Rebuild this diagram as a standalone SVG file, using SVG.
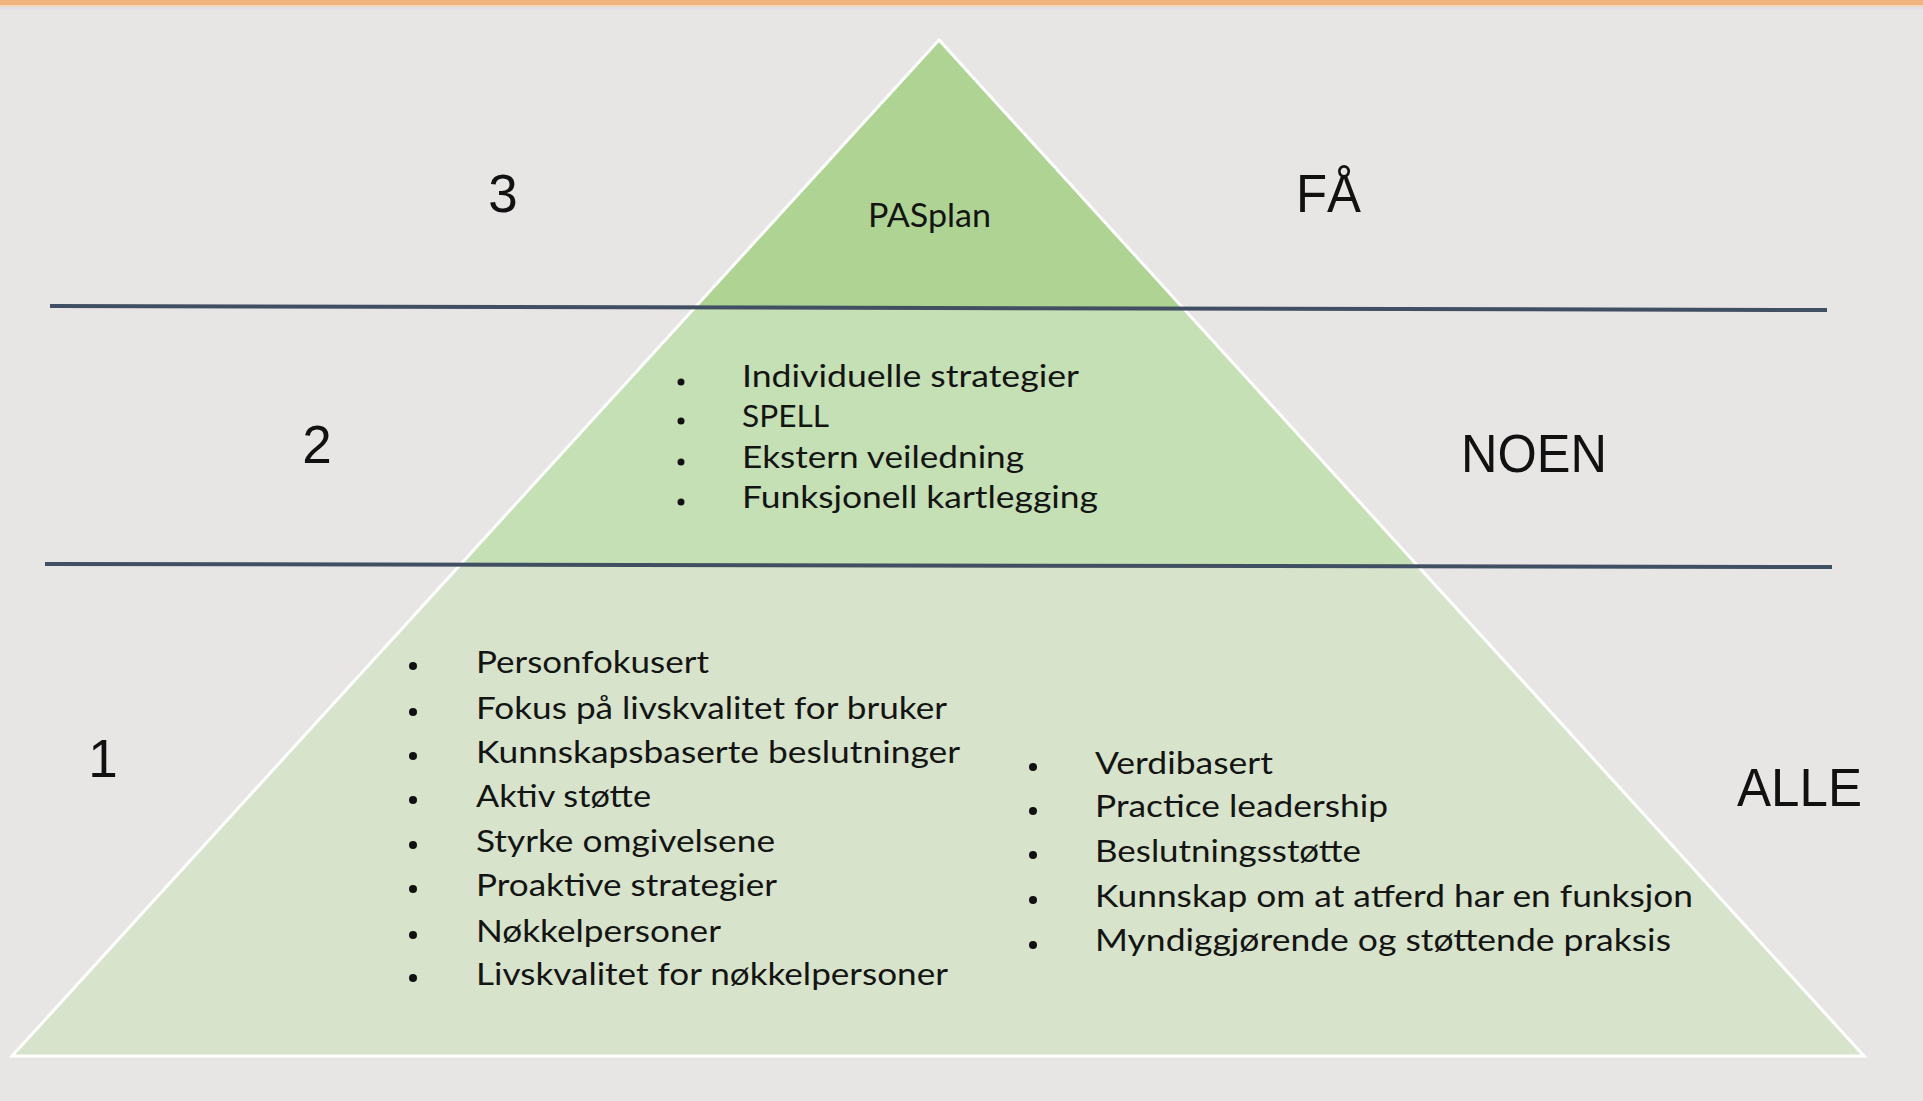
<svg xmlns="http://www.w3.org/2000/svg" width="1923" height="1101" viewBox="0 0 1923 1101">
  <style>
    .lvl { font-family: "Liberation Sans", Arial, sans-serif; font-size: 53px; fill: #111; }
    .item { font-family: Lato, "Open Sans", "Liberation Sans", sans-serif; font-size: 30px; fill: #141414; }
    .title { font-family: Lato, "Open Sans", "Liberation Sans", sans-serif; font-size: 32px; fill: #141414; }
    .divider { stroke: #414f62; stroke-width: 4; stroke-linecap: butt; fill: none; }
    .bullet { fill: #111; }
  </style>
  <defs>
    <clipPath id="triClip">
      <polygon points="939,40 12,1056 1864,1056"/>
    </clipPath>
  </defs>

  <!-- background -->
  <rect x="0" y="0" width="1923" height="1101" fill="#e8e5e5"/>
  <rect x="0" y="0" width="1923" height="5" fill="#eeb47c"/>
  <rect x="0" y="5" width="1923" height="2" fill="#f6d5b8"/>
  <rect x="0" y="7" width="1923" height="3" fill="#e1e0e7"/>

  <!-- pyramid -->
  <g id="pyramid">
    <g clip-path="url(#triClip)">
      <rect id="band-3" x="0" y="0" width="1923" height="309" fill="#aed393"/>
      <rect id="band-2" x="0" y="309" width="1923" height="257" fill="#c5e0b4"/>
      <rect id="band-1" x="0" y="566" width="1923" height="500" fill="#d7e4cb"/>
    </g>
    <polygon points="939,40 12,1056 1864,1056" fill="none" stroke="#ffffff" stroke-width="3" stroke-linejoin="miter"/>
  </g>

  <!-- dividing lines -->
  <g id="connectors">
    <line class="divider" x1="50" y1="306" x2="1827" y2="310"/>
    <line class="divider" x1="45" y1="564" x2="1832" y2="567"/>
  </g>

  <!-- level 3 -->
  <g id="tier-3">
    <text class="lvl" x="503" y="212" text-anchor="middle">3</text>
    <text class="title" x="868" y="227" textLength="123" lengthAdjust="spacingAndGlyphs">PASplan</text>
    <text class="lvl" x="1296" y="212" textLength="65" lengthAdjust="spacingAndGlyphs">FÅ</text>
  </g>

  <!-- level 2 -->
  <g id="tier-2">
    <text class="lvl" x="317" y="463" text-anchor="middle">2</text>
    <text class="lvl" x="1461" y="472" textLength="146" lengthAdjust="spacingAndGlyphs">NOEN</text>
    <g id="tier-2-list">
      <circle class="bullet" cx="681" cy="382" r="3.5"/>
      <circle class="bullet" cx="681" cy="421" r="3.5"/>
      <circle class="bullet" cx="681" cy="462" r="3.5"/>
      <circle class="bullet" cx="681" cy="502" r="3.5"/>
      <text class="item" x="742" y="387" textLength="337" lengthAdjust="spacingAndGlyphs">Individuelle strategier</text>
      <text class="item" x="742" y="427" textLength="87" lengthAdjust="spacingAndGlyphs">SPELL</text>
      <text class="item" x="742" y="468" textLength="282" lengthAdjust="spacingAndGlyphs">Ekstern veiledning</text>
      <text class="item" x="742" y="508" textLength="356" lengthAdjust="spacingAndGlyphs">Funksjonell kartlegging</text>
    </g>
  </g>

  <!-- level 1 -->
  <g id="tier-1">
    <text class="lvl" x="103" y="777" text-anchor="middle">1</text>
    <text class="lvl" x="1737" y="806" textLength="125" lengthAdjust="spacingAndGlyphs">ALLE</text>
    <g id="tier-1-left">
      <circle class="bullet" cx="413" cy="666" r="4"/>
      <circle class="bullet" cx="413" cy="712" r="4"/>
      <circle class="bullet" cx="413" cy="756" r="4"/>
      <circle class="bullet" cx="413" cy="800" r="4"/>
      <circle class="bullet" cx="413" cy="845" r="4"/>
      <circle class="bullet" cx="413" cy="889" r="4"/>
      <circle class="bullet" cx="413" cy="935" r="4"/>
      <circle class="bullet" cx="413" cy="978" r="4"/>
      <text class="item" x="476" y="673" textLength="233" lengthAdjust="spacingAndGlyphs">Personfokusert</text>
      <text class="item" x="476" y="719" textLength="471" lengthAdjust="spacingAndGlyphs">Fokus på livskvalitet for bruker</text>
      <text class="item" x="476" y="763" textLength="484" lengthAdjust="spacingAndGlyphs">Kunnskapsbaserte beslutninger</text>
      <text class="item" x="476" y="807" textLength="175" lengthAdjust="spacingAndGlyphs">Aktiv støtte</text>
      <text class="item" x="476" y="852" textLength="299" lengthAdjust="spacingAndGlyphs">Styrke omgivelsene</text>
      <text class="item" x="476" y="896" textLength="301" lengthAdjust="spacingAndGlyphs">Proaktive strategier</text>
      <text class="item" x="476" y="942" textLength="245" lengthAdjust="spacingAndGlyphs">Nøkkelpersoner</text>
      <text class="item" x="476" y="985" textLength="472" lengthAdjust="spacingAndGlyphs">Livskvalitet for nøkkelpersoner</text>
    </g>
    <g id="tier-1-right">
      <circle class="bullet" cx="1033" cy="767" r="4"/>
      <circle class="bullet" cx="1033" cy="811" r="4"/>
      <circle class="bullet" cx="1033" cy="855" r="4"/>
      <circle class="bullet" cx="1033" cy="900" r="4"/>
      <circle class="bullet" cx="1033" cy="945" r="4"/>
      <text class="item" x="1095" y="774" textLength="178" lengthAdjust="spacingAndGlyphs">Verdibasert</text>
      <text class="item" x="1095" y="817" textLength="293" lengthAdjust="spacingAndGlyphs">Practice leadership</text>
      <text class="item" x="1095" y="862" textLength="266" lengthAdjust="spacingAndGlyphs">Beslutningsstøtte</text>
      <text class="item" x="1095" y="907" textLength="598" lengthAdjust="spacingAndGlyphs">Kunnskap om at atferd har en funksjon</text>
      <text class="item" x="1095" y="951" textLength="576" lengthAdjust="spacingAndGlyphs">Myndiggjørende og støttende praksis</text>
    </g>
  </g>
</svg>
